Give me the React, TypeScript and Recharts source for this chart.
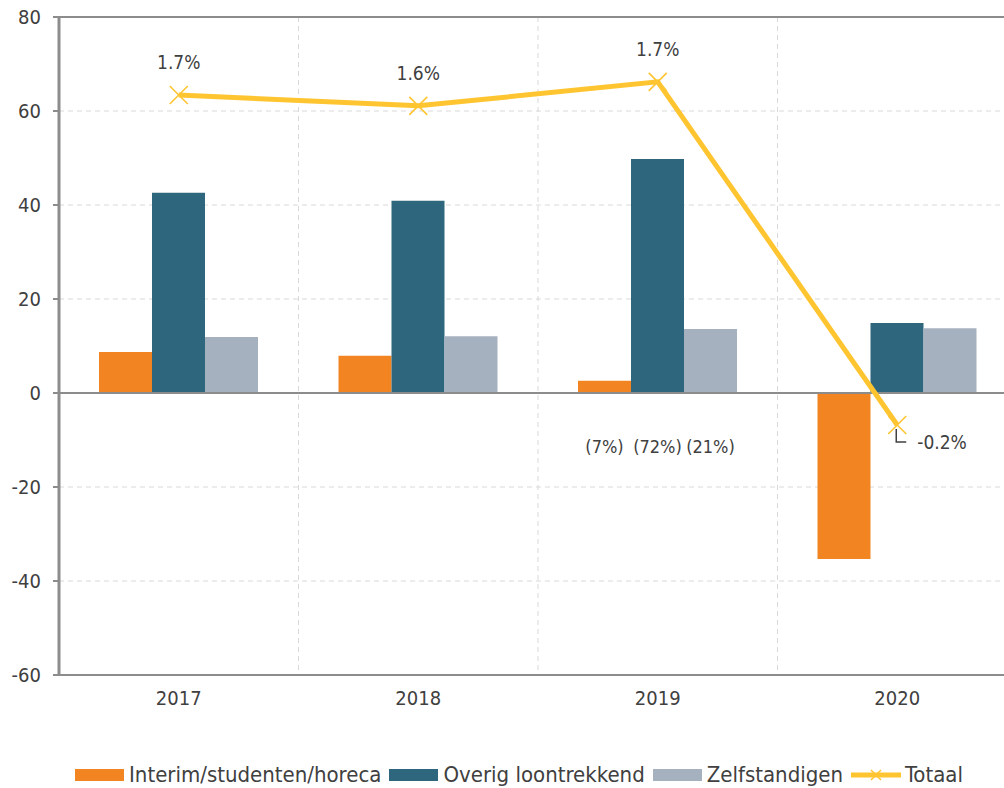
import React from "react";
import {
  ComposedChart,
  Bar,
  Line,
  XAxis,
  YAxis,
  CartesianGrid,
  ReferenceLine,
} from "recharts";

const years = ["2017", "2018", "2019", "2020"];
const interim = [8.7, 7.9, 2.6, -35.3];
const overig = [42.6, 40.9, 49.8, 14.9];
const zelf = [11.9, 12.1, 13.6, 13.8];
const totaal = [63.4, 61.1, 66.2, -6.8];
const totaalLabels = ["1.7%", "1.6%", "1.7%", "-0.2%"];
const shares2019 = ["(7%)", "(72%)", "(21%)"];
const yTicks = [-60, -40, -20, 0, 20, 40, 60, 80];

const ORANGE = "#F28522";
const TEAL = "#2E677D";
const GREY = "#A6B1BF";
const YELLOW = "#FFC531";
const AXIS = "#8C8C8C";
const TEXT = "#404040";
const FONT = "'DejaVu Sans Condensed', sans-serif";

const data = years.map((year, i) => ({
  year,
  interim: interim[i],
  overig: overig[i],
  zelf: zelf[i],
  totaal: totaal[i],
}));

const shareLabel = (k: number) => (props: any) => {
  const { x, y, width, height, index } = props;
  if (index !== 2) return null;
  return (
    <text
      x={x + width / 2}
      y={y + height + 60}
      textAnchor="middle"
      fill={TEXT}
      fontSize={18}
      fontFamily={FONT}
    >
      {shares2019[k]}
    </text>
  );
};

const CrossDot = (props: any) => {
  const { cx, cy } = props;
  if (cx == null || cy == null) return null;
  const s = 9;
  return (
    <path
      d={`M${cx - s},${cy - s}L${cx + s},${cy + s}M${cx + s},${cy - s}L${cx - s},${cy + s}`}
      stroke={YELLOW}
      strokeWidth={1.6}
      fill="none"
    />
  );
};

const TotaalLabel = (props: any) => {
  const { x, y, index } = props;
  if (index === 3) {
    return (
      <g>
        <path
          d={`M${x - 1},${y + 4}V${y + 17}H${x + 9}`}
          stroke={TEXT}
          strokeWidth={1.5}
          fill="none"
        />
        <text x={x + 20} y={y + 24} fill={TEXT} fontSize={19} fontFamily={FONT}>
          {totaalLabels[index]}
        </text>
      </g>
    );
  }
  return (
    <text
      x={x}
      y={y - 26}
      textAnchor="middle"
      fill={TEXT}
      fontSize={19}
      fontFamily={FONT}
    >
      {totaalLabels[index]}
    </text>
  );
};

const legendItems = [
  { name: "Interim/studenten/horeca", color: ORANGE, line: false },
  { name: "Overig loontrekkend", color: TEAL, line: false },
  { name: "Zelfstandigen", color: GREY, line: false },
  { name: "Totaal", color: YELLOW, line: true },
];

export default function App() {
  return (
    <div
      style={{
        position: "fixed",
        top: 0,
        left: 0,
        width: 1004,
        height: 788,
        overflow: "hidden",
        background: "#fff",
      }}
    >
      <ComposedChart
        width={1030}
        height={788}
        data={data}
        margin={{ top: 17, right: 13, left: 0, bottom: 83 }}
        barCategoryGap="16.7%"
        barGap={0}
      >
        <CartesianGrid
          stroke="#D9D9D9"
          strokeDasharray="5 4"
          verticalCoordinatesGenerator={({ offset }: any) =>
            years.map((_, i) => offset.left + (offset.width * i) / years.length)
          }
        />
        <XAxis
          dataKey="year"
          axisLine={{ stroke: AXIS, strokeWidth: 2 }}
          tickLine={false}
          tick={{ fill: TEXT, fontSize: 20, fontFamily: FONT }}
          tickMargin={10}
          height={30}
        />
        <YAxis
          domain={[-60, 80]}
          ticks={yTicks}
          interval={0}
          width={59}
          axisLine={{ stroke: AXIS, strokeWidth: 3 }}
          tickLine={{ stroke: AXIS, strokeWidth: 2 }}
          tickSize={6}
          tickMargin={12}
          tick={{ fill: TEXT, fontSize: 20, fontFamily: FONT }}
        />
        <ReferenceLine y={80} stroke={AXIS} strokeWidth={2} />
        <Bar
          dataKey="interim"
          fill={ORANGE}
          isAnimationActive={false}
          label={shareLabel(0)}
        />
        <Bar
          dataKey="overig"
          fill={TEAL}
          isAnimationActive={false}
          label={shareLabel(1)}
        />
        <Bar
          dataKey="zelf"
          fill={GREY}
          isAnimationActive={false}
          label={shareLabel(2)}
        />
        <ReferenceLine y={0} stroke={AXIS} strokeWidth={2} />
        <Line
          dataKey="totaal"
          stroke={YELLOW}
          strokeWidth={5}
          dot={<CrossDot />}
          activeDot={false}
          isAnimationActive={false}
          label={<TotaalLabel />}
        />
      </ComposedChart>
      <div
        style={{
          position: "absolute",
          top: 762,
          left: 75,
          display: "flex",
          alignItems: "center",
          fontFamily: FONT,
          fontSize: 22,
          color: TEXT,
          whiteSpace: "nowrap",
        }}
      >
        {legendItems.map((it) => (
          <div
            key={it.name}
            style={{ display: "flex", alignItems: "center", marginRight: 8 }}
          >
            {it.line ? (
              <svg width={50} height={14} style={{ marginRight: 4 }}>
                <line x1={0} y1={7} x2={50} y2={7} stroke={it.color} strokeWidth={5} />
                <path d="M20,2L30,12M30,2L20,12" stroke={it.color} strokeWidth={1.5} />
              </svg>
            ) : (
              <div
                style={{
                  width: 49,
                  height: 12,
                  background: it.color,
                  marginRight: 5,
                }}
              />
            )}
            <span>{it.name}</span>
          </div>
        ))}
      </div>
    </div>
  );
}
